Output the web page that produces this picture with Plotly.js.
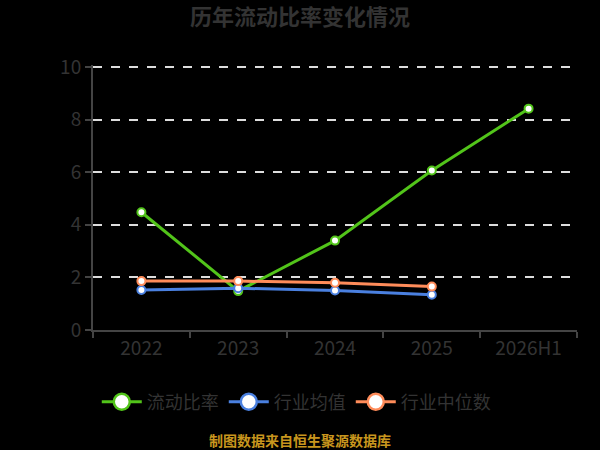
<!DOCTYPE html>
<html>
<head>
<meta charset="utf-8">
<script src="https://cdn.plot.ly/plotly-3.0.1.min.js"></script>
<style>html,body{margin:0;padding:0;background:#000;}#chart{width:600px;height:450px;}</style>
</head>
<body>
<div id="chart"></div>
<script>
var categories = ['2022', '2023', '2024', '2025', '2026H1'];
var currentRatio = [4.48, 1.48, 3.40, 6.07, 8.42];
var industryMean = [1.52, 1.59, 1.50, 1.34];
var industryMedian = [1.86, 1.86, 1.80, 1.65];
var seriesNames = ['流动比率', '行业均值', '行业中位数'];
var colors = ['#52c41a', '#4a80e0', '#ff8c5a'];
var yTicks = [0, 2, 4, 6, 8, 10];

var font = '"Noto Sans CJK SC", "Noto Sans", sans-serif';
var seriesData = [currentRatio, industryMean, industryMedian];
var traces = [];
seriesData.forEach(function (vals, i) {
  traces.push({
    x: categories.slice(0, vals.length),
    y: vals,
    type: 'scatter',
    mode: 'lines+markers',
    name: seriesNames[i],
    showlegend: false,
    line: {color: colors[i], width: 3},
    marker: {size: 8, color: '#ffffff', line: {color: colors[i], width: 2}}
  });
});
seriesData.forEach(function (vals, i) {
  traces.push({
    x: [null],
    y: [null],
    type: 'scatter',
    mode: 'lines+markers',
    name: seriesNames[i],
    showlegend: true,
    line: {color: colors[i], width: 3},
    marker: {size: 17, color: '#ffffff', line: {color: colors[i], width: 2.5}}
  });
});

var layout = {
  width: 600,
  height: 450,
  paper_bgcolor: '#000000',
  plot_bgcolor: '#000000',
  margin: {l: 93, r: 23, t: 65, b: 120},
  title: {text: '<b>历年流动比率变化情况</b>', x: 0.5, xanchor: 'center', y: 0.962, yanchor: 'middle',
          font: {family: font, size: 22, color: '#333333'}},
  xaxis: {
    type: 'category',
    range: [-0.5, 4.5],
    showline: true, linecolor: '#444444', linewidth: 2,
    ticks: 'outside', tickson: 'boundaries', ticklen: 6, tickcolor: '#444444', tickwidth: 2,
    showgrid: false,
    tickfont: {family: font, size: 19, color: '#333333'}
  },
  yaxis: {
    range: [0, 10.08],
    tickvals: yTicks,
    showline: true, linecolor: '#444444', linewidth: 2,
    ticks: 'outside', ticklen: 6, tickcolor: '#444444', tickwidth: 2,
    showgrid: true, gridcolor: '#dddddd', gridwidth: 2, griddash: 'dash',
    zeroline: false,
    tickfont: {family: font, size: 19, color: '#333333'}
  },
  showlegend: true,
  legend: {
    orientation: 'h', x: 0.42, xanchor: 'center', y: -0.272, yanchor: 'middle',
    font: {family: font, size: 18, color: '#333333'},
    itemwidth: 40, bgcolor: 'rgba(0,0,0,0)'
  },
  annotations: [{
    text: '<b>制图数据来自恒生聚源数据库</b>', xref: 'paper', yref: 'paper',
    x: 0.428, y: -0.415, xanchor: 'center', yanchor: 'middle', showarrow: false,
    font: {family: font, size: 14, color: '#c8961e'}
  }]
};

Plotly.newPlot('chart', traces, layout, {displayModeBar: false, staticPlot: true});
</script>
</body>
</html>
